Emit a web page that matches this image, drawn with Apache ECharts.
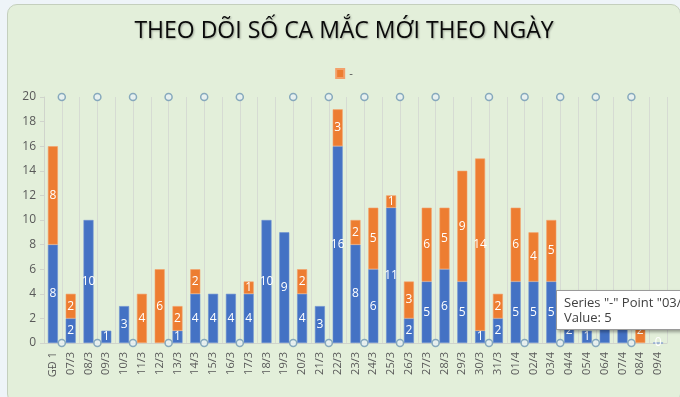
<!DOCTYPE html>
<html lang="vi">
<head>
  <meta charset="UTF-8">
  <title>Theo dõi số ca mắc mới theo ngày</title>
  <script src="https://cdn.jsdelivr.net/npm/echarts@6.0.0/dist/echarts.min.js"></script>
  <style>
    html, body { margin: 0; padding: 0; overflow: hidden; background: #eef4f8; }
    #frame {
      position: absolute; left: 7px; top: 4px; width: 674px; height: 400px;
      background: #e3efda; border: 1px solid #c4cfbd; border-radius: 10px; box-sizing: border-box;
    }
    #main { position: absolute; left: 7px; top: 4px; width: 674px; height: 393px; }
  </style>
</head>
<body>
  <div id="frame"></div>
  <div id="main"></div>

  <script type="text/javascript">
    // Categories (x axis)
    const days = ['GĐ 1', '07/3', '08/3', '09/3', '10/3', '11/3', '12/3', '13/3', '14/3', '15/3',
      '16/3', '17/3', '18/3', '19/3', '20/3', '21/3', '22/3', '23/3', '24/3', '25/3',
      '26/3', '27/3', '28/3', '29/3', '30/3', '31/3', '01/4', '02/4', '03/4', '04/4',
      '05/4', '06/4', '07/4', '08/4', '09/4'];

    // Blue series (no legend name)
    const blueCases = [8, 2, 10, 1, 3, null, null, 1, 4, 4,
      4, 4, 10, 9, 4, 3, 16, 8, 6, 11,
      2, 5, 6, 5, 1, 2, 5, 5, 5, 2,
      1, 3, 3, null, 0];

    // Orange series "-"
    const orangeCases = [8, 2, null, null, null, 4, 6, 2, 2, null,
      null, 1, null, null, 2, null, 3, 2, 5, 1,
      3, 6, 5, 9, 14, 2, 6, 4, 5, null,
      null, null, null, 2, null];

    // Y axis ticks
    const yMin = 0, yMax = 20, yStep = 2;

    // Selection handles sitting on the vertical gridlines (boundary index)
    const handleLines = [1, 3, 5, 7, 9, 11, 14, 16, 18, 20, 22, 25, 27, 29, 31, 33];
    const handlePoints = [];
    handleLines.forEach(k => { handlePoints.push([k, yMin]); handlePoints.push([k, yMax]); });

    const blue = '#4472c4';
    const orange = '#ed7d31';

    let myChart = echarts.init(document.getElementById('main'));

    const barLabel = {
      show: true,
      position: 'inside',
      color: '#ffffff',
      fontSize: 12,
      fontFamily: 'Open Sans, sans-serif',
      formatter: p => (p.value === null || p.value === undefined) ? '' : String(p.value)
    };

    const options = {
      backgroundColor: 'transparent',
      animation: false,
      title: {
        text: 'THEO DÕI SỐ CA MẮC MỚI THEO NGÀY',
        left: 'center',
        top: 11,
        textStyle: {
          fontFamily: 'Open Sans, sans-serif',
          fontSize: 23,
          fontWeight: 'normal',
          color: '#0a0a0a',
          textShadowColor: 'rgba(0,0,0,0.3)',
          textShadowBlur: 2,
          textShadowOffsetX: 1,
          textShadowOffsetY: 1
        }
      },
      legend: {
        data: ['-'],
        top: 59,
        left: 'center',
        itemWidth: 8,
        itemHeight: 9,
        itemGap: 4,
        icon: 'rect',
        textStyle: { color: '#595959', fontSize: 11 }
      },
      tooltip: {
        trigger: 'item',
        triggerOn: 'none',
        alwaysShowContent: true,
        confine: false,
        position: [549, 286],
        backgroundColor: '#ffffff',
        borderColor: '#9a9a9a',
        borderWidth: 1,
        padding: [4, 8, 4, 7],
        textStyle: { color: '#404040', fontSize: 13, fontFamily: 'Open Sans, sans-serif' },
        extraCssText: 'box-shadow: 2px 2px 3px rgba(0,0,0,0.35); border-radius: 0; line-height: 15px; white-space: nowrap;',
        formatter: p => 'Series "' + p.seriesName + '" Point "' + p.name + '"<br/>Value: ' + p.value
      },
      grid: { left: 37, right: 14, top: 93, bottom: 54 },
      xAxis: [{
        type: 'category',
        data: days,
        boundaryGap: true,
        axisLine: { lineStyle: { color: '#d0d4cc' } },
        axisTick: { show: false },
        splitLine: { show: true, interval: 0, lineStyle: { color: '#d6dbd3', width: 1 } },
        axisLabel: {
          interval: 0,
          rotate: 90,
          color: '#595959',
          fontSize: 11,
          fontFamily: 'Open Sans, sans-serif',
          margin: 9
        }
      }, {
        type: 'value',
        min: 0,
        max: days.length,
        show: false
      }],
      yAxis: {
        type: 'value',
        min: yMin,
        max: yMax,
        interval: yStep,
        axisLine: { show: true, lineStyle: { color: '#d0d4cc' } },
        axisTick: { show: true, length: 4, lineStyle: { color: '#d0d4cc' } },
        splitLine: { show: false },
        axisLabel: { color: '#595959', fontSize: 12, fontFamily: 'Open Sans, sans-serif', margin: 8 }
      },
      series: [{
        name: '',
        type: 'bar',
        stack: 'cases',
        data: blueCases,
        barWidth: 10,
        itemStyle: { color: blue, borderColor: '#6d8fd2', borderWidth: 0.6 },
        label: barLabel
      }, {
        name: '-',
        type: 'bar',
        stack: 'cases',
        data: orangeCases,
        barWidth: 10,
        itemStyle: { color: orange, borderColor: '#f3a06a', borderWidth: 0.6 },
        label: barLabel
      }, {
        name: 'handles',
        type: 'scatter',
        xAxisIndex: 1,
        data: handlePoints,
        symbol: 'circle',
        symbolSize: 7,
        itemStyle: { color: '#e8f1f4', borderColor: '#6f97b3', borderWidth: 1.5 },
        silent: true,
        tooltip: { show: false },
        z: 5
      }]
    };

    myChart.setOption(options);
    myChart.dispatchAction({ type: 'showTip', seriesIndex: 1, dataIndex: 28 });
  </script>
</body>
</html>
